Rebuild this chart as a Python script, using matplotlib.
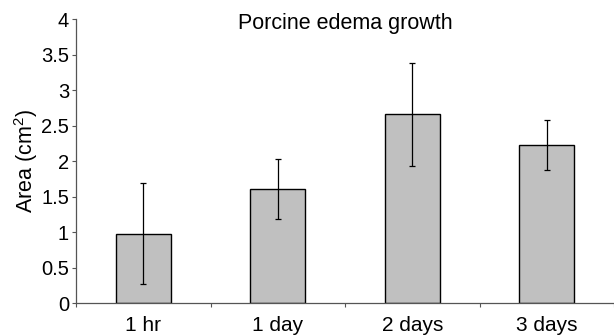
import matplotlib.pyplot as plt
import numpy as np

# Данные
categories = ['1 hr', '1 day', '2 days', '3 days']
area = [0.98, 1.61, 2.66, 2.23]
err = [0.71, 0.42, 0.73, 0.355]
y_ticks = [0, 0.5, 1, 1.5, 2, 2.5, 3, 3.5, 4]
y_tick_labels = ['0', '0.5', '1', '1.5', '2', '2.5', '3', '3.5', '4']

plt.rcParams['font.family'] = ['Liberation Sans', 'DejaVu Sans']
plt.rcParams['mathtext.fontset'] = 'custom'
plt.rcParams['mathtext.rm'] = 'Liberation Sans'

fig = plt.figure(figsize=(6.14, 3.36), dpi=100)
ax = fig.add_axes([0.1238, 0.0973, 0.8762, 0.8453])

x = np.arange(len(categories))
ax.bar(x, area, width=0.41, color='#c0c0c0', edgecolor='black', linewidth=1.0, zorder=2)
ax.errorbar(x, area, yerr=err, fmt='none', ecolor='black', elinewidth=0.9,
            capsize=2.5, capthick=0.9, zorder=3)

ax.set_xlim(-0.5, len(categories) - 0.5)
ax.set_ylim(0, 4)
ax.set_yticks(y_ticks)
ax.set_yticklabels(y_tick_labels)
ax.set_xticks(x)
ax.set_xticklabels(categories)
ax.tick_params(axis='x', length=0, labelsize=15, pad=9)
ax.tick_params(axis='y', length=3, width=0.8, color='#555555', labelsize=14.5, pad=2)

# Деления по границам категорий
ax.set_xticks(np.arange(len(categories) + 1) - 0.5, minor=True)
ax.tick_params(axis='x', which='minor', length=3, width=0.8, color='#555555')

for s in ['top', 'right']:
    ax.spines[s].set_visible(False)
for s in ['left', 'bottom']:
    ax.spines[s].set_color('#555555')
    ax.spines[s].set_linewidth(0.9)

ax.set_ylabel('Area (cm$^2$)', fontsize=15.5, labelpad=1)
ax.text(0.5, 0.985, 'Porcine edema growth', transform=ax.transAxes,
        ha='center', va='center', fontsize=15.5)

plt.savefig('out.png', dpi=100)
